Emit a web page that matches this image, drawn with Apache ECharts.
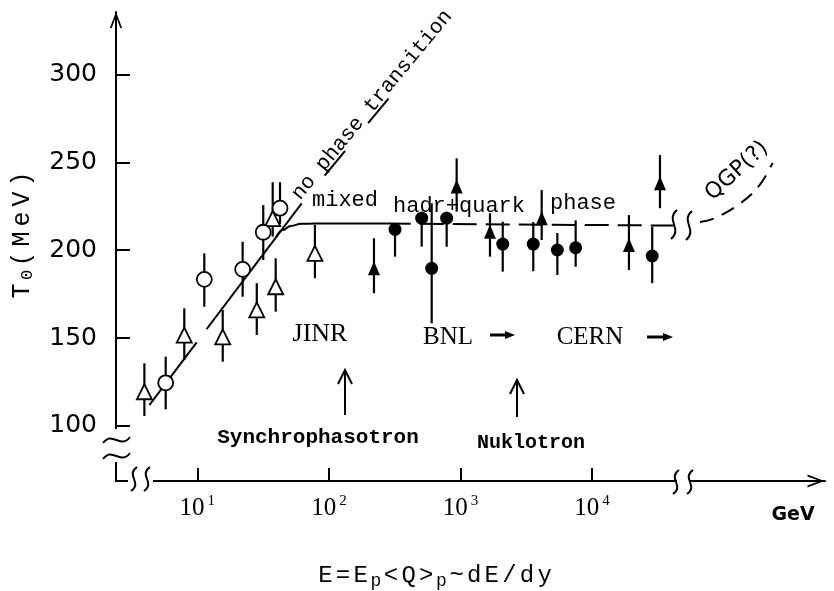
<!DOCTYPE html>
<html><head><meta charset="utf-8">
<script src="https://cdn.jsdelivr.net/npm/echarts@6/dist/echarts.min.js"></script>
<style>html,body{margin:0;padding:0;background:#fff}#c{width:834px;height:591px}</style>
</head><body><div id="c"></div>
<script>
// ---------- data (E in GeV, T0 in MeV) ----------
const xTickE = [10, 100, 1000, 10000];
const yTicks = [100, 150, 200, 250, 300];

const openTriE  = [3.96, 7.96, 15.6, 28.3, 39.4, 37.4, 78.3];
const openTriT  = [119.4, 151.7, 150.7, 166.0, 179.2, 218.0, 198.2];
const openTriLo = [105.6, 137.5, 136.5, 151.7, 165.0, 207.7, 184.0];
const openTriHi = [135.6, 166.9, 165.9, 181.2, 195.4, 238.7, 214.4];

const openCircE  = [5.75, 11.3, 22.1, 31.7, 42.5];
const openCircT  = [124.5, 183.4, 189.1, 210.2, 223.9];
const openCircLo = [109.4, 167.8, 173.5, 194.4, 215.0];
const openCircHi = [139.4, 198.2, 204.8, 225.7, 238.7];

const fullTriE  = [220, 935, 1675, 4140, 19060, 32800];
const fullTriT  = [189.7, 236.2, 210.5, 218.2, 203.0, 238.1];
const fullTriLo = [175.5, 221.9, 196.3, 205.8, 188.7, 223.9];
const fullTriHi = [206.8, 252.3, 221.0, 234.3, 220.0, 254.2];

const fullCircE  = [318, 507, 604, 785, 2094, 3573, 5445, 7500, 28640];
const fullCircT  = [211.9, 218.2, 189.7, 218.2, 203.5, 203.5, 200.1, 201.4, 196.7];
const fullCircLo = [196.3, 202.0, 158.4, 202.0, 187.8, 188.0, 185.9, 190.6, 181.2];
const fullCircHi = [214.4, 221.9, 226.7, 221.9, 216.2, 216.0, 209.8, 217.0, 213.4];

// curves
const riseAE = [4.32, 9.89];          const riseAT = [111.8, 147.5];
const riseBE = [11.75, 62.1];         const riseBT = [155.0, 226.7];
const noPtE  = [62.1, 291];           const noPtT  = [226.7, 287.3];
const kneeE  = [39.8, 44.7, 51.3, 61.7, 79.4, 275];
const kneeT  = [207.5, 211.5, 213.8, 215.0, 215.2, 215.2];
const mixE   = [275, 41200];          const mixT   = [215.2, 214.0];
const qgpE   = [66070, 85900, 131800, 185400, 235500];
const qgpT   = [216.1, 218.3, 226.3, 236.6, 249.7];

// ---------- helpers ----------
const lg = v => Math.log10(v);
const pts = (E, T) => E.map((e, i) => [lg(e), T[i]]);
const bars = (E, lo, hi) => E.map((e, i) => [lg(e), lo[i], hi[i]]);
const BLACK = '#000';
const MONO = 'Liberation Mono';
const ARROW = 'path://M0,17 L6.5,0 L13,17 L11,17 L6.5,4.5 L2,17 Z';

function errSeries(data) {
  return {
    type: 'custom', data: data, z: 2, silent: true,
    encode: { x: 0, y: [1, 2] },
    renderItem: function (params, api) {
      const a = api.coord([api.value(0), api.value(1)]);
      const b = api.coord([api.value(0), api.value(2)]);
      return { type: 'line', shape: { x1: a[0], y1: a[1], x2: b[0], y2: b[1] },
               style: { stroke: BLACK, lineWidth: 2.2 } };
    }
  };
}
function lineSeries(data, type, extra) {
  return Object.assign({
    type: 'line', data: data, showSymbol: false, symbol: 'none', silent: true, z: 2,
    lineStyle: { color: BLACK, width: 2, type: type || 'solid' }
  }, extra || {});
}
function spaced(str, key) { return str.split('').map(c => '{' + key + '|' + c + '}').join(''); }
function squigV(x, y1, y2) { // vertical wave crossing a horizontal line
  const h = y2 - y1;
  return { type: 'bezierCurve', shape: { x1: x + 3, y1: y1, cpx1: x - 9, cpy1: y1 + h * 0.35, cpx2: x + 9, cpy2: y1 + h * 0.65, x2: x - 3, y2: y2 },
           style: { stroke: BLACK, lineWidth: 2, fill: null }, z: 20 };
}
function squigH(y, x1, x2) { // horizontal wave crossing a vertical line
  const w = x2 - x1;
  return { type: 'bezierCurve', shape: { x1: x1, y1: y + 3, cpx1: x1 + w * 0.35, cpy1: y - 10, cpx2: x1 + w * 0.65, cpy2: y + 10, x2: x2, y2: y - 3 },
           style: { stroke: BLACK, lineWidth: 2, fill: null }, z: 20 };
}
function txt(x, y, text, font, extra) {
  return Object.assign({ type: 'text', x: x, y: y, z: 20, silent: true,
    style: Object.assign({ text: text, fill: BLACK, align: 'center', verticalAlign: 'middle' }, font) }, extra || {});
}
function upArrow(x, yb, yt) {
  return [
    { type: 'line', shape: { x1: x, y1: yb, x2: x, y2: yt + 1 }, style: { stroke: BLACK, lineWidth: 2 }, z: 20 },
    { type: 'polyline', shape: { points: [[x - 7, yt + 14], [x, yt], [x + 7, yt + 14]] }, style: { stroke: BLACK, lineWidth: 2, fill: null }, z: 20 }
  ];
}
function rightArrow(x1, x2, y) {
  return [
    { type: 'line', shape: { x1: x1, y1: y, x2: x2 - 8, y2: y }, style: { stroke: BLACK, lineWidth: 3 }, z: 20 },
    { type: 'polygon', shape: { points: [[x2 - 10, y - 4], [x2, y], [x2 - 10, y + 4]] }, style: { fill: BLACK }, z: 20 }
  ];
}

const chart = echarts.init(document.getElementById('c'));

const option = {
  animation: false,
  backgroundColor: '#fff',
  grid: { left: 116, right: 9, top: 12, bottom: 110 },
  xAxis: {
    type: 'value', min: 0.382, max: 5.77,
    splitLine: { show: false },
    axisLine: { show: true, onZero: false, lineStyle: { color: BLACK, width: 2 },
      symbol: ['none', ARROW], symbolSize: [13, 18], symbolOffset: [0, -9] },
    axisTick: { show: true, inside: true, length: 13, customValues: xTickE.map(lg), lineStyle: { color: BLACK, width: 2 } },
    axisLabel: {
      customValues: xTickE.map(lg), margin: 13,
      formatter: v => '{b|10}{s|' + Math.round(v) + '}',
      rich: {
        b: { fontFamily: 'Liberation Serif', fontSize: 25, lineHeight: 28, color: BLACK },
        s: { fontFamily: 'Liberation Serif', fontSize: 15, lineHeight: 15, verticalAlign: 'top', color: BLACK, padding: [0, 0, 0, 3] }
      }
    }
  },
  yAxis: {
    type: 'value', min: 68.6, max: 335.6,
    splitLine: { show: false },
    axisLine: { show: true, onZero: false, lineStyle: { color: BLACK, width: 2 },
      symbol: ['none', ARROW], symbolSize: [15, 16], symbolOffset: [0, -8] },
    axisTick: { show: true, inside: true, length: 14, customValues: yTicks, lineStyle: { color: BLACK, width: 2 } },
    axisLabel: { customValues: yTicks, margin: 19, color: BLACK, fontFamily: 'DejaVu Sans', fontSize: 25 }
  },
  series: [
    lineSeries(pts(riseAE, riseAT)),
    lineSeries(pts(riseBE, riseBT)),
    lineSeries(pts(noPtE, noPtT), [32, 36], { lineStyle: { color: BLACK, width: 2, type: [32, 36], dashOffset: 32 } }),
    lineSeries(pts(kneeE, kneeT), 'solid', { smooth: 0.5, smoothMonotone: 'x' }),
    lineSeries(pts(mixE, mixT), [24, 9]),
    lineSeries(pts(qgpE, qgpT), [14, 9], { smooth: 0.4 }),
    errSeries(bars(openTriE, openTriLo, openTriHi)),
    errSeries(bars(openCircE, openCircLo, openCircHi)),
    errSeries(bars(fullTriE, fullTriLo, fullTriHi)),
    errSeries(bars(fullCircE, fullCircLo, fullCircHi)),
    { type: 'scatter', data: pts(openTriE, openTriT), symbol: 'triangle', symbolSize: [15, 15], z: 3, silent: true,
      itemStyle: { color: '#fff', borderColor: BLACK, borderWidth: 1.8, opacity: 1 } },
    { type: 'scatter', data: pts(openCircE, openCircT), symbol: 'circle', symbolSize: 15, z: 3, silent: true,
      itemStyle: { color: '#fff', borderColor: BLACK, borderWidth: 1.8, opacity: 1 } },
    { type: 'scatter', data: pts(fullTriE, fullTriT), symbol: 'triangle', symbolSize: [12, 14], z: 3, silent: true,
      itemStyle: { color: BLACK, opacity: 1 } },
    { type: 'scatter', data: pts(fullCircE, fullCircT), symbol: 'circle', symbolSize: 13, z: 3, silent: true,
      itemStyle: { color: BLACK, opacity: 1 } }
  ],
  graphic: [].concat(
    [
      // axis breaks
      { type: 'rect', shape: { x: 106, y: 429, width: 20, height: 33 }, style: { fill: '#fff' }, z: 15 },
      squigH(440, 103, 130), squigH(456, 103, 130),
      { type: 'rect', shape: { x: 127, y: 472, width: 26, height: 18 }, style: { fill: '#fff' }, z: 15 },
      { type: 'line', shape: { x1: 115, y1: 481, x2: 128, y2: 481 }, style: { stroke: BLACK, lineWidth: 2 }, z: 16 },
      squigV(134, 467, 491), squigV(147, 467, 491),
      { type: 'rect', shape: { x: 677, y: 472, width: 13, height: 20 }, style: { fill: '#fff' }, z: 15 },
      squigV(676, 470, 494), squigV(690, 470, 494),
      squigV(674, 210, 239), squigV(689, 211, 240),
      // axis titles
      txt(22, 235, spaced('T', 'm') + '{s|0}' + spaced('(MeV)', 'm'), {
        rich: { m: { fontFamily: MONO, fontSize: 25, lineHeight: 28, padding: [0, 2.5, 0, 2.5] },
                s: { fontFamily: MONO, fontSize: 17, lineHeight: 14, verticalAlign: 'bottom', padding: [0, 1, 0, 1] } } },
        { rotation: Math.PI / 2 }),
      txt(435, 576, spaced('E=E', 'm') + '{s|p}' + spaced('<Q>', 'm') + '{s|p}' + spaced('~dE/dy', 'm'), {
        rich: { m: { fontFamily: MONO, fontSize: 24, lineHeight: 28, padding: [0, 1.6, 0, 1.6] },
                s: { fontFamily: MONO, fontSize: 18, lineHeight: 14, verticalAlign: 'bottom', padding: [0, 1, 0, 1] } } }),
      txt(793, 515, 'GeV', { fontFamily: 'DejaVu Sans', fontWeight: 'bold', fontSize: 19 }),
      // annotations
      txt(372, 105, 'no phase transition', { fontFamily: MONO, fontSize: 21 }, { rotation: 0.88 }),
      txt(737, 171, 'QGP(?)', { fontFamily: 'DejaVu Sans', fontSize: 22 }, { rotation: 0.74 }),
      txt(312, 200, 'mixed', { fontFamily: MONO, fontSize: 22, align: 'left' }),
      txt(393, 206, 'hadr+quark', { fontFamily: MONO, fontSize: 22, align: 'left' }),
      txt(550, 203, 'phase', { fontFamily: MONO, fontSize: 22, align: 'left' }),
      txt(320, 334, 'JINR', { fontFamily: 'Liberation Serif', fontSize: 26 }),
      txt(448, 337, 'BNL', { fontFamily: 'Liberation Serif', fontSize: 25 }),
      txt(590, 337, 'CERN', { fontFamily: 'Liberation Serif', fontSize: 25 }),
      txt(318, 438, 'Synchrophasotron', { fontFamily: MONO, fontWeight: 'bold', fontSize: 21 }),
      txt(531, 443, 'Nuklotron', { fontFamily: MONO, fontWeight: 'bold', fontSize: 20 })
    ],
    upArrow(345, 415, 370),
    upArrow(517, 417, 380),
    rightArrow(490, 515, 335),
    rightArrow(647, 673, 337)
  )
};
chart.setOption(option);
</script>
</body></html>
